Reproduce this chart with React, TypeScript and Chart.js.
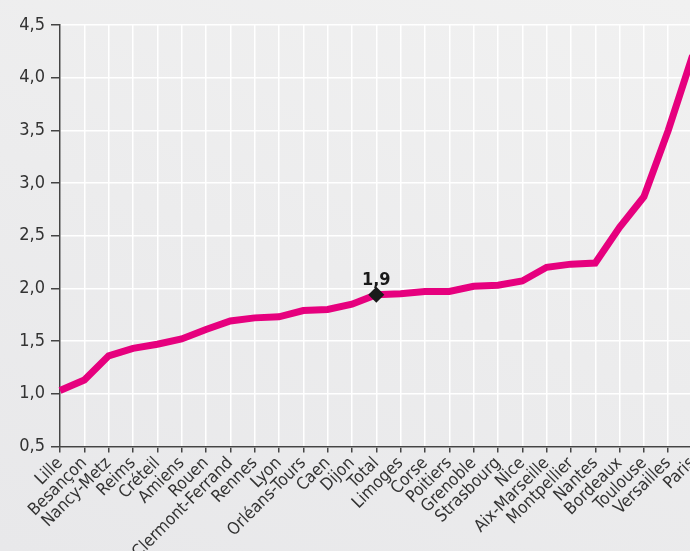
import React, { useEffect, useRef } from "react";
import { Chart, registerables } from "chart.js";

Chart.register(...registerables);

const categories = [
  "Lille", "Besançon", "Nancy-Metz", "Reims", "Créteil", "Amiens", "Rouen",
  "Clermont-Ferrand", "Rennes", "Lyon", "Orléans-Tours", "Caen", "Dijon", "Total",
  "Limoges", "Corse", "Poitiers", "Grenoble", "Strasbourg", "Nice", "Aix-Marseille",
  "Montpellier", "Nantes", "Bordeaux", "Toulouse", "Versailles", "Paris",
];

const values = [
  1.03, 1.13, 1.36, 1.43, 1.47, 1.52, 1.61,
  1.69, 1.72, 1.73, 1.79, 1.80, 1.85, 1.94,
  1.95, 1.97, 1.97, 2.02, 2.03, 2.07, 2.20,
  2.23, 2.24, 2.58, 2.87, 3.50, 4.21,
];

const yTickValues = [0.5, 1.0, 1.5, 2.0, 2.5, 3.0, 3.5, 4.0, 4.5];

const highlightLabel = "Total";
const highlightText = "1,9";

const FONT = "'DejaVu Sans Condensed', 'Liberation Sans Narrow', sans-serif";

const fmt = (v: number) => v.toFixed(1).replace(".", ",");

export default function App() {
  const ref = useRef<HTMLCanvasElement | null>(null);

  useEffect(() => {
    if (!ref.current) return;
    const hiIndex = categories.indexOf(highlightLabel);

    const labelPlugin = {
      id: "hiLabel",
      afterDatasetsDraw(chart: any) {
        const meta = chart.getDatasetMeta(0);
        const pt = meta.data[hiIndex];
        if (!pt) return;
        const ctx = chart.ctx;
        ctx.save();
        ctx.font = `bold 18px ${FONT}`;
        ctx.fillStyle = "#1a1a1a";
        ctx.textAlign = "center";
        ctx.textBaseline = "alphabetic";
        ctx.fillText(highlightText, pt.x, pt.y - 10);
        ctx.restore();
      },
    };

    const chart = new Chart(ref.current, {
      type: "line",
      data: {
        labels: categories,
        datasets: [
          {
            data: values,
            borderColor: "#e6007e",
            borderWidth: 7,
            tension: 0,
            borderJoinStyle: "miter",
            pointRadius: (c: any) => (c.dataIndex === hiIndex ? 8 : 0),
            pointHoverRadius: 0,
            pointStyle: "rectRot",
            pointBackgroundColor: "#1a1a1a",
            pointBorderColor: "#1a1a1a",
            pointBorderWidth: 0,
            clip: false as any,
          },
        ],
      },
      options: {
        responsive: false,
        animation: false,
        devicePixelRatio: 1,
        layout: { padding: { top: 25, left: 0, right: 0, bottom: 0 } },
        plugins: {
          legend: { display: false },
          tooltip: { enabled: false },
          title: { display: false },
        },
        scales: {
          x: {
            offset: false,
            grid: {
              color: "#ffffff",
              lineWidth: 1.5,
              tickColor: "#444",
              tickLength: 6,
              tickWidth: 1.5,
            },
            border: { color: "#444", width: 1.5 },
            ticks: {
              autoSkip: false,
              minRotation: 45,
              maxRotation: 45,
              padding: 1,
              color: "#333",
              font: { family: FONT, size: 17 },
            },
            afterFit(scale: any) {
              scale.height = 104.6;
            },
          },
          y: {
            min: 0.5,
            max: 4.5,
            grid: {
              color: "#ffffff",
              lineWidth: 1.5,
              tickColor: "#444",
              tickLength: 9,
              tickWidth: 1.5,
            },
            border: { color: "#444", width: 1.5 },
            ticks: {
              padding: 6,
              color: "#333",
              font: { family: FONT, size: 18 },
              callback: (v: any) => fmt(Number(v)),
            },
            afterBuildTicks(scale: any) {
              scale.ticks = yTickValues.map((v) => ({ value: v }));
            },
            afterFit(scale: any) {
              scale.width = 60;
            },
          },
        },
      },
      plugins: [labelPlugin],
    });

    return () => chart.destroy();
  }, []);

  return (
    <div
      style={{
        position: "fixed",
        left: 0,
        top: 0,
        width: 690,
        height: 551,
        overflow: "hidden",
        background: "linear-gradient(20deg, #e8e8ea 0%, #ececed 50%, #f1f1f1 100%)",
      }}
    >
      <canvas ref={ref} width={708} height={551} style={{ display: "block" }} />
    </div>
  );
}
